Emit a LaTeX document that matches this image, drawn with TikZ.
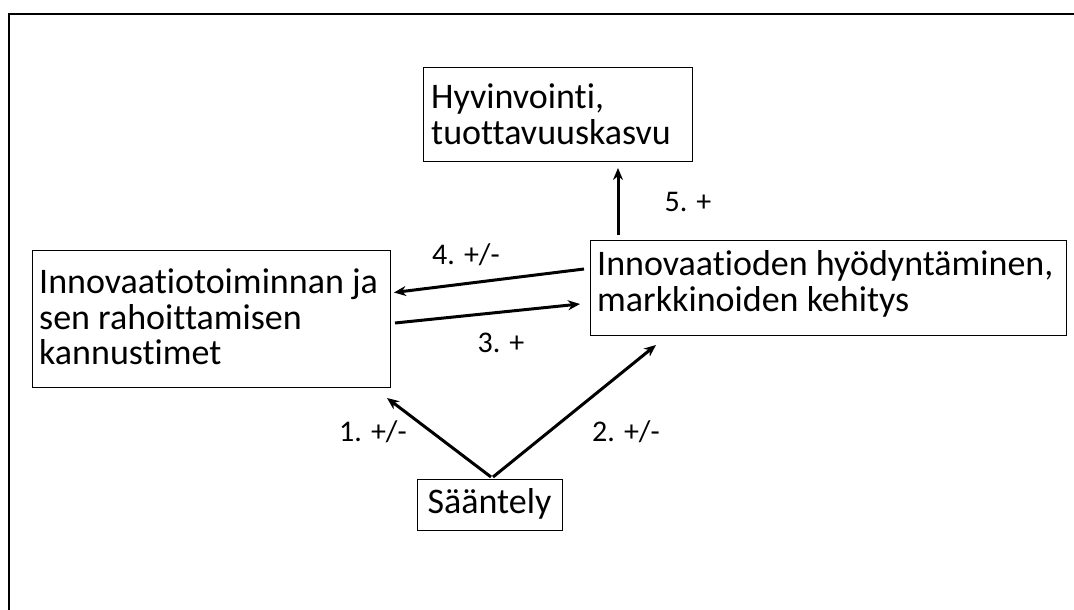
\documentclass[tikz,border=0pt]{standalone}
\usepackage{fontspec}
\setmainfont{Carlito}[Ligatures=NoCommon]
\usetikzlibrary{arrows.meta}
\begin{document}
\begin{tikzpicture}[x=1pt,y=-1pt,
  box/.style={draw=black, line width=1pt, anchor=north west, inner sep=0pt},
  txt/.style={anchor=west, align=left, inner sep=0pt, font=\fontsize{36}{35.5}\selectfont},
  arr/.style={line width=3pt, -{Stealth[length=12pt,width=10pt]}},
  lbl/.style={font=\fontsize{30}{34}\selectfont, inner sep=0pt}]
\useasboundingbox (0,0) rectangle (1074,610);
\fill[white] (0,0) rectangle (1074,610);
\draw[line width=1.8pt] (9,612) -- (9,14) -- (1076,14);
% boxes
\node[box, minimum width=269pt, minimum height=94pt] (H) at (423,67) {};
\node[txt] (Ht) at (431,114) {Hyvinvointi,\\tuottavuuskasvu};
\node[box, minimum width=358pt, minimum height=137pt] (L) at (32,250) {};
\node[txt] (Lt) at (39,317) {Innovaatiotoiminnan ja\\sen rahoittamisen\\kannustimet};
\node[box, minimum width=476pt, minimum height=95pt] (R) at (590,240) {};
\node[txt] (Rt) at (597,284) {Innovaatioden hyödyntäminen,\\markkinoiden kehitys};
\node[box, minimum width=145pt, minimum height=51pt] (S) at (417,479) {};
\node[anchor=center, inner sep=0pt, font=\fontsize{36}{35.5}\selectfont] (St) at (489.5,504) {Sääntely};
% arrow anchors
\coordinate (r5a) at (618,235);
\coordinate (h5) at (618,168);
\coordinate (r4) at (584,269);
\coordinate (l4) at (394,292.5);
\coordinate (l3) at (395,323);
\coordinate (r3) at (580,304);
\coordinate (s1) at (491,477);
\coordinate (l1) at (387,398);
\coordinate (s2) at (493,477);
\coordinate (r2) at (656,345);
\draw[arr] (r5a) -- (h5);
\draw[arr] (r4) -- (l4);
\draw[arr] (l3) -- (r3);
\draw[arr] (s1) -- (l1);
\draw[arr] (s2) -- (r2);
% labels
\node[lbl] (n5) at (688,202) {5. +};
\node[lbl] (n4) at (466,255) {4. +/-};
\node[lbl] (n3) at (501,343) {3. +};
\node[lbl] (n1) at (373,432) {1. +/-};
\node[lbl] (n2) at (626,432) {2. +/-};
\end{tikzpicture}
\end{document}
